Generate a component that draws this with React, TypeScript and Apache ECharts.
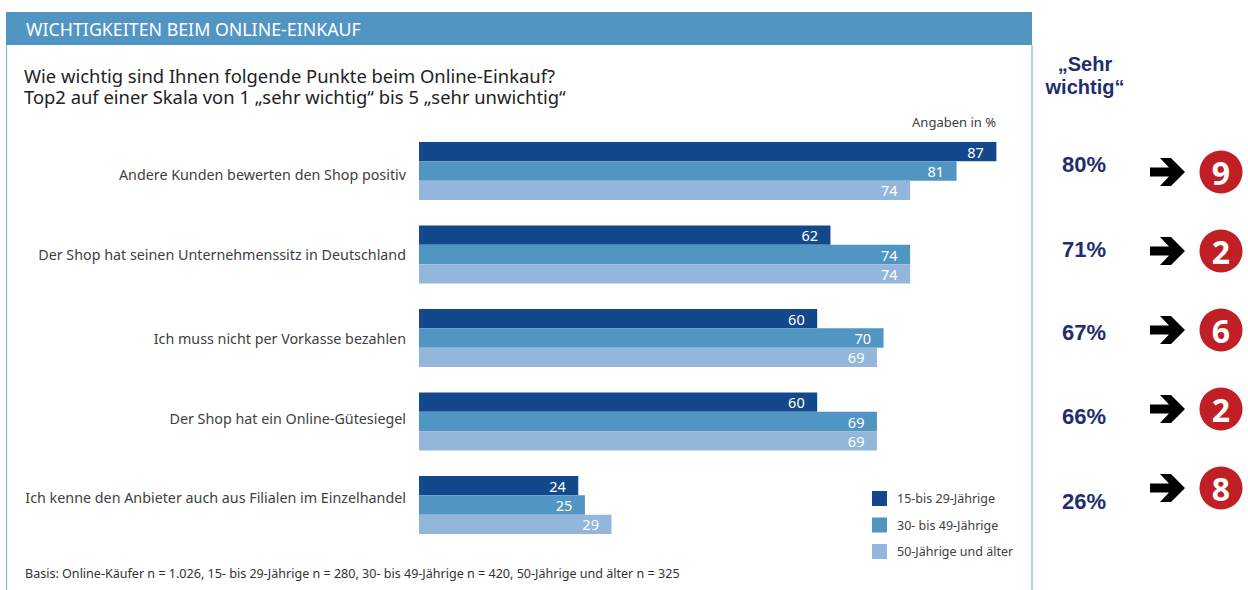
import React, { useEffect, useRef } from "react";
import * as echarts from "echarts";

const categories = [
  "Andere Kunden bewerten den Shop positiv",
  "Der Shop hat seinen Unternehmenssitz in Deutschland",
  "Ich muss nicht per Vorkasse bezahlen",
  "Der Shop hat ein Online-Gütesiegel",
  "Ich kenne den Anbieter auch aus Filialen im Einzelhandel",
];
const seriesNames = ["15-bis 29-Jährige", "30- bis 49-Jährige", "50-Jährige und älter"];
const young = [87, 62, 60, 60, 24];
const middle = [81, 74, 70, 69, 25];
const older = [74, 74, 69, 69, 29];
const colors = ["#13498c", "#5195c3", "#92b7da"];
const veryImportant = ["80%", "71%", "67%", "66%", "26%"];
const badges = ["9", "2", "6", "2", "8"];

const SANS = '"Noto Sans", sans-serif';
const ARIAL = '"Liberation Sans", Arial, sans-serif';
const valueY = [164, 249, 332, 416, 501];
const badgeY = [172, 251, 330, 409, 488];
// Upward nudge of each category label relative to its bar group, in px
const labelNudge = [-3, 0, 0, 3, 8];

const arrowPoints = (cy: number) => [
  [1150, cy - 4.5], [1169, cy - 4.5], [1160, cy - 14], [1171, cy - 14], [1185, cy],
  [1171, cy + 14], [1160, cy + 14], [1169, cy + 4.5], [1150, cy + 4.5],
];

const staticText = (x: number, y: number, text: string, font: object, align = "left") => ({
  type: "text", x, y,
  style: { text, textAlign: align, textVerticalAlign: "middle", ...font },
});

export default function App() {
  const ref = useRef<HTMLDivElement>(null);
  useEffect(() => {
    document.body.style.margin = "0";
    const chart = echarts.init(ref.current!, undefined, { renderer: "svg" });
    const barSeries = [young, middle, older].map((data, i) => ({
      name: seriesNames[i],
      type: "bar",
      data,
      barWidth: 19.33,
      barGap: "0%",
      itemStyle: { color: colors[i] },
      label: {
        show: true, position: "insideRight", distance: 12.5,
        color: "#fff", fontFamily: SANS, fontSize: 14.5,
      },
    }));
    const rich: Record<string, object> = {};
    labelNudge.forEach((n, i) => {
      rich["c" + i] = {
        fontFamily: SANS, fontSize: 14.3, color: "#404040",
        padding: n > 0 ? [0, 0, n * 2, 0] : [-n * 2, 0, 0, 0],
      };
    });
    chart.setOption({
      animation: false,
      backgroundColor: "#fff",
      grid: { left: 419, top: 129.25, width: 597.3, height: 417.5, containLabel: false },
      xAxis: { type: "value", min: 0, max: 90, show: false },
      yAxis: {
        type: "category", inverse: true, data: categories,
        axisLine: { show: false }, axisTick: { show: false },
        axisLabel: {
          margin: 13,
          formatter: (v: string) => `{c${categories.indexOf(v)}|${v}}`,
          rich,
        },
      },
      legend: {
        left: 872, top: 491, padding: 0, orient: "vertical", itemWidth: 15, itemHeight: 15, itemGap: 11.5,
        icon: "rect", selectedMode: false,
        textStyle: { fontFamily: SANS, fontSize: 12.5, color: "#404040", padding: [0, 0, 0, 5] },
      },
      series: barSeries,
      graphic: [
        { type: "rect", shape: { x: 6, y: 12, width: 1026, height: 33 }, style: { fill: "#5195c3" } },
        { type: "line", shape: { x1: 6.5, y1: 45, x2: 6.5, y2: 590 }, style: { stroke: "#7fb8dc", lineWidth: 1.2 } },
        { type: "line", shape: { x1: 1032, y1: 45, x2: 1032, y2: 590 }, style: { stroke: "#7fb8dc", lineWidth: 1.2 } },
        staticText(26, 28.5, "WICHTIGKEITEN BEIM ONLINE-EINKAUF", { fontFamily: SANS, fontSize: 17.8, fill: "#fff" }),
        staticText(24, 85.5, "Wie wichtig sind Ihnen folgende Punkte beim Online-Einkauf?\nTop2 auf einer Skala von 1 „sehr wichtig“ bis 5 „sehr unwichtig“", { fontFamily: SANS, fontSize: 18.4, lineHeight: 21, fill: "#222" }),
        staticText(996, 122, "Angaben in %", { fontFamily: SANS, fontSize: 13, fill: "#404040" }, "right"),
        staticText(25, 573, "Basis: Online-Käufer n = 1.026, 15- bis 29-Jährige n = 280, 30- bis 49-Jährige n = 420, 50-Jährige und älter n = 325", { fontFamily: SANS, fontSize: 12.55, fill: "#333" }),
        staticText(1085, 64, "„Sehr", { fontFamily: ARIAL, fontSize: 20, fontWeight: "bold", fill: "#1f2e6e" }, "center"),
        staticText(1085, 87, "wichtig“", { fontFamily: ARIAL, fontSize: 20, fontWeight: "bold", fill: "#1f2e6e" }, "center"),
        ...veryImportant.map((t, i) =>
          staticText(1084, valueY[i], t, { fontFamily: ARIAL, fontSize: 22, fontWeight: "bold", fill: "#1f2e6e" }, "center")),
        ...badgeY.map((cy) => ({ type: "polygon", shape: { points: arrowPoints(cy) }, style: { fill: "#000" } })),
        ...badgeY.map((cy) => ({ type: "circle", shape: { cx: 1221, cy, r: 21.5 }, style: { fill: "#c01f26" } })),
        ...badges.map((t, i) =>
          staticText(1221, badgeY[i], t, { fontFamily: SANS, fontSize: 32, fontWeight: "bold", fill: "#fff" }, "center")),
      ],
    });
    return () => chart.dispose();
  }, []);
  return <div ref={ref} style={{ width: 1248, height: 590 }} />;
}
